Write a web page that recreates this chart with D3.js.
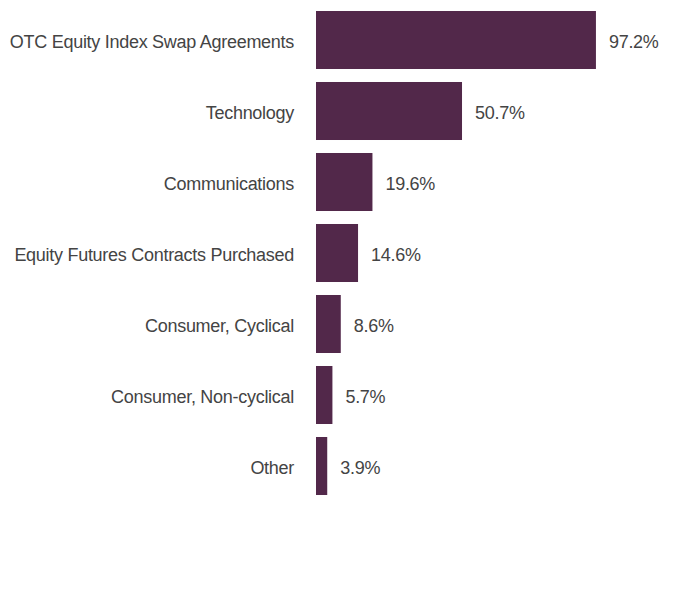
<!DOCTYPE html>
<html><head><meta charset="utf-8">
<script src="https://cdn.jsdelivr.net/npm/d3@7"></script>
<style>body{margin:0;background:#fff}svg{display:block}text{font-family:"Liberation Sans",Arial,sans-serif;letter-spacing:-0.28px}</style>
</head><body><svg id="c" width="696" height="600"></svg>
<script>
const categories = ["OTC Equity Index Swap Agreements","Technology","Communications","Equity Futures Contracts Purchased","Consumer, Cyclical","Consumer, Non-cyclical","Other"];
const values = [97.2, 50.7, 19.6, 14.6, 8.6, 5.7, 3.9];
const valueLabels = ["97.2%","50.7%","19.6%","14.6%","8.6%","5.7%","3.9%"];

const svg = d3.select("#c");
const x = d3.scaleLinear().domain([0, 100]).range([316, 604]);
const y = d3.scaleBand().domain(categories).range([4.5, 501.5]).paddingInner(0.183).paddingOuter(0.0915);

svg.selectAll("rect.bar").data(categories).join("rect")
  .attr("class","bar")
  .attr("x", x(0))
  .attr("y", d => y(d))
  .attr("width", (d,i) => x(values[i]) - x(0))
  .attr("height", y.bandwidth())
  .attr("fill", "#52284a");

svg.selectAll("text.cat").data(categories).join("text")
  .attr("class","cat")
  .attr("x", 294)
  .attr("y", d => y(d) + y.bandwidth()/2)
  .attr("dy", "0.42em")
  .attr("text-anchor","end")
  .attr("font-size", 18)
  .attr("fill", "#444")
  .text(d => d);

svg.selectAll("text.val").data(categories).join("text")
  .attr("class","val")
  .attr("x", (d,i) => x(values[i]) + 13)
  .attr("y", d => y(d) + y.bandwidth()/2)
  .attr("dy", "0.42em")
  .attr("font-size", 18)
  .attr("fill", "#444")
  .text((d,i) => valueLabels[i]);
</script></body></html>
